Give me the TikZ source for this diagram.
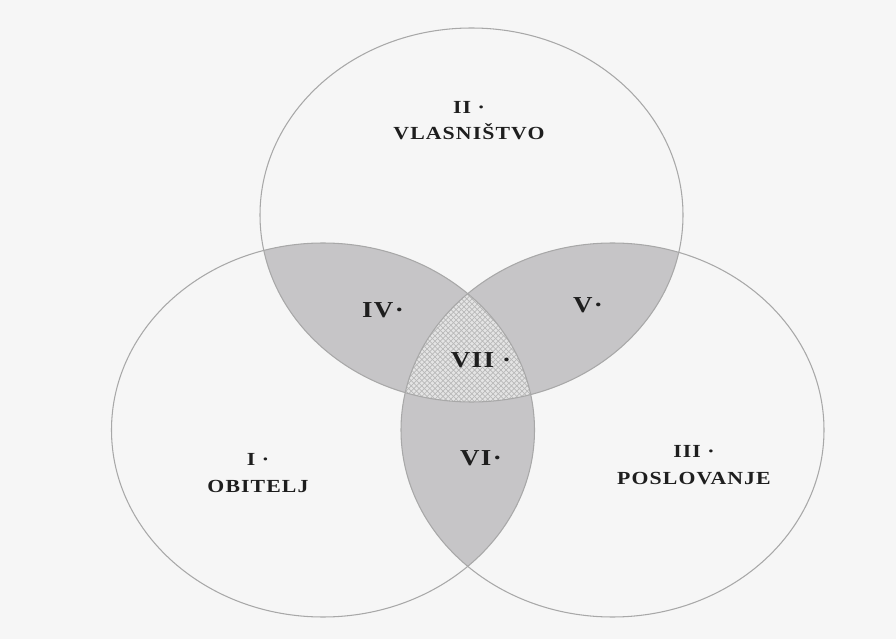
\documentclass[tikz,border=0pt]{standalone}
\usepackage{fontspec}
\setmainfont{Liberation Serif}[FakeStretch=1.18, LetterSpace=6]
\usetikzlibrary{patterns}
\definecolor{paper}{RGB}{246,246,246}
\definecolor{rim}{RGB}{168,168,168}
\definecolor{shade}{RGB}{198,197,199}
\definecolor{hatchbg}{RGB}{228,228,228}
\definecolor{ink}{RGB}{30,30,30}
\newcommand{\rx}{4.23}
\newcommand{\ry}{3.74}

\begin{document}
\begin{tikzpicture}[
    ring/.style={draw=rim, line width=0.6pt},
    lens/.style={fill=shade},
    core/.style={fill=hatchbg, postaction={pattern=crosshatch, pattern color=gray!55}},
    setlabel/.style={font=\bfseries\fontsize{10.5}{15}\selectfont, text=ink, align=center},
    zonelabel/.style={font=\bfseries\fontsize{13}{15}\selectfont, text=ink}
]
\useasboundingbox (0,0) rectangle (17.92,12.78);
\fill[paper] (0,0) rectangle (17.92,12.78);

\coordinate (ctop) at (9.43, 8.48);
\coordinate (cleft) at (6.46, 4.18);
\coordinate (cright) at (12.25, 4.18);

% --- pairwise overlaps ---
\begin{scope}
    \clip (ctop) ellipse [x radius=\rx, y radius=\ry];
    \fill[lens] (cleft) ellipse [x radius=\rx, y radius=\ry];
    \fill[lens] (cright) ellipse [x radius=\rx, y radius=\ry];
\end{scope}
\begin{scope}
    \clip (cleft) ellipse [x radius=\rx, y radius=\ry];
    \fill[lens] (cright) ellipse [x radius=\rx, y radius=\ry];
\end{scope}

% --- common part ---
\begin{scope}
    \clip (ctop) ellipse [x radius=\rx, y radius=\ry];
    \clip (cleft) ellipse [x radius=\rx, y radius=\ry];
    \fill[core] (cright) ellipse [x radius=\rx, y radius=\ry];
\end{scope}

% --- outlines ---
\foreach \c in {ctop, cleft, cright} {
    \draw[ring] (\c) ellipse [x radius=\rx, y radius=\ry];
}

% --- labels ---
\node[setlabel] (vlasnistvo) at (9.38, 10.37) {II \textperiodcentered\\VLASNIŠTVO};
\node[setlabel] (obitelj) at (5.16, 3.32) {I \textperiodcentered\\OBITELJ};
\node[setlabel] (poslovanje) at (13.88, 3.48) {III \textperiodcentered\\POSLOVANJE};
\node[zonelabel] (zoneiv) at (7.66, 6.58) {IV\textperiodcentered};
\node[zonelabel] (zonev) at (11.76, 6.68) {V\textperiodcentered};
\node[zonelabel] (zonevii) at (9.62, 5.58) {VII \textperiodcentered};
\node[zonelabel] (zonevi) at (9.62, 3.62) {VI\textperiodcentered};
\end{tikzpicture}
\end{document}
